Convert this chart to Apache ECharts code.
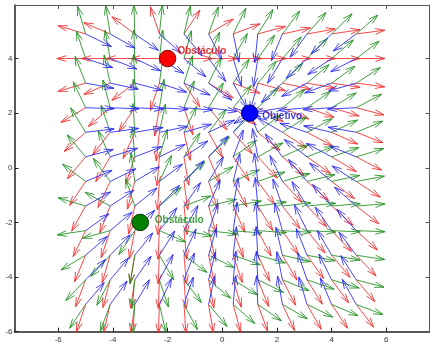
<!DOCTYPE html>
<html lang="es">
<head>
    <meta charset="UTF-8">
    <title>Campo de potencial</title>
    <script src="https://cdn.jsdelivr.net/npm/echarts@6/dist/echarts.min.js"></script>
    <style type="text/css">
        html, body { margin: 0; padding: 0; background: #fff; }
        #main { width: 436px; height: 348px; }
    </style>
</head>
<body>
<div id="main"></div>
<script type="text/javascript">
    // malla de puntos (x = y = -5:0.9:5)
    var xGrid = [-5, -4.1, -3.2, -2.3, -1.4, -0.5, 0.4, 1.3, 2.2, 3.1, 4.0, 4.9];
    var yGrid = [-5, -4.1, -3.2, -2.3, -1.4, -0.5, 0.4, 1.3, 2.2, 3.1, 4.0, 4.9];
    // obstaculos y objetivo
    var obstacleRed = [-2, 4];
    var obstacleGreen = [-3, -2];
    var goal = [1, 2];
    // posiciones de los textos
    var labelRed = [-1.64, 4.25];
    var labelGreen = [-2.47, -1.92];
    var labelGoal = [1.46, 1.89];
    // marcas de los ejes
    var xTicks = [-6, -4, -2, 0, 2, 4, 6];
    var yTicks = [-6, -4, -2, 0, 2, 4];

    var arrowLen = 1.05;   // escala del quiver
    var alpha = 0.33;      // largo de la punta
    var beta = 0.3;        // ancho de la punta

    // vector unitario de repulsion (sign = 1) o atraccion (sign = -1)
    function field(src, sign) {
        var data = [];
        for (var j = 0; j < yGrid.length; j++) {
            for (var i = 0; i < xGrid.length; i++) {
                var dx = xGrid[i] - src[0];
                var dy = yGrid[j] - src[1];
                var d = Math.sqrt(dx * dx + dy * dy);
                data.push([xGrid[i], yGrid[j], sign * arrowLen * dx / d, sign * arrowLen * dy / d]);
            }
        }
        return data;
    }

    function arrowRenderer(color) {
        return function (params, api) {
            var x = api.value(0), y = api.value(1), u = api.value(2), v = api.value(3);
            var tail = api.coord([x, y]);
            var tip = api.coord([x + u, y + v]);
            var b1 = api.coord([x + u - alpha * (u + beta * v), y + v - alpha * (v - beta * u)]);
            var b2 = api.coord([x + u - alpha * (u - beta * v), y + v - alpha * (v + beta * u)]);
            var st = { stroke: color, lineWidth: 1, fill: null, opacity: 0.85 };
            return {
                type: 'group',
                children: [
                    { type: 'polyline', shape: { points: [tail, tip] }, style: st },
                    { type: 'polyline', shape: { points: [b1, tip, b2] }, style: st }
                ]
            };
        };
    }

    function quiver(name, data, color) {
        return {
            name: name,
            type: 'custom',
            xAxisIndex: 0,
            yAxisIndex: 0,
            renderItem: arrowRenderer(color),
            encode: { x: 0, y: 1 },
            data: data,
            silent: true,
            z: 2
        };
    }

    function point(name, pos, color, edge) {
        return {
            name: name,
            type: 'scatter',
            symbol: 'circle',
            symbolSize: 16.5,
            itemStyle: { color: color, borderColor: edge, borderWidth: 1, opacity: 1 },
            data: [pos],
            z: 5
        };
    }

    function label(text, pos, color) {
        return {
            type: 'scatter',
            symbolSize: 0,
            data: [pos],
            z: 6,
            label: {
                show: true,
                position: 'right',
                distance: 0,
                formatter: text,
                color: color,
                fontSize: 10,
                fontWeight: 'bold',
                fontFamily: 'Liberation Sans'
            }
        };
    }

    var axisFont = { fontSize: 8, color: '#333', fontFamily: 'Liberation Sans' };

    var myChart = echarts.init(document.getElementById('main'));
    var option = {
        animation: false,
        grid: { left: 14.5, right: 6.5, top: 5, bottom: 16.3 },
        xAxis: [{
            type: 'value', min: -7.6, max: 7.58, position: 'bottom',
            axisLine: { onZero: false, lineStyle: { color: '#222', width: 1.5 } },
            axisTick: { inside: true, length: 4, customValues: xTicks, lineStyle: { color: '#222' } },
            axisLabel: Object.assign({ customValues: xTicks, margin: 4 }, axisFont),
            splitLine: { show: false }
        }, {
            type: 'value', min: -7.6, max: 7.58, position: 'top',
            axisLine: { onZero: false, lineStyle: { color: '#555', width: 1 } },
            axisTick: { inside: true, length: 4, customValues: xTicks, lineStyle: { color: '#555' } },
            axisLabel: { show: false },
            splitLine: { show: false }
        }],
        yAxis: [{
            type: 'value', min: -6, max: 5.96, position: 'left',
            axisLine: { onZero: false, lineStyle: { color: '#222', width: 1.5 } },
            axisTick: { inside: true, length: 4, customValues: yTicks, lineStyle: { color: '#222' } },
            axisLabel: Object.assign({ customValues: yTicks, margin: 2 }, axisFont),
            splitLine: { show: false }
        }, {
            type: 'value', min: -6, max: 5.96, position: 'right',
            axisLine: { onZero: false, lineStyle: { color: '#555', width: 1 } },
            axisTick: { inside: true, length: 4, customValues: yTicks, lineStyle: { color: '#555' } },
            axisLabel: { show: false },
            splitLine: { show: false }
        }],
        series: [
            quiver('repulsion roja', field(obstacleRed, 1), '#f22a2a'),
            quiver('repulsion verde', field(obstacleGreen, 1), '#1f8f1f'),
            quiver('atraccion', field(goal, -1), '#2626f2'),
            point('Obstáculo rojo', obstacleRed, '#ff0000', '#7a0000'),
            point('Obstáculo verde', obstacleGreen, '#008000', '#003300'),
            point('Objetivo', goal, '#0000ff', '#000066'),
            label('Obstáculo', labelRed, '#e00000'),
            label('Obstáculo', labelGreen, '#118811'),
            label('Objetivo', labelGoal, '#1111cc')
        ]
    };
    myChart.setOption(option);
</script>
</body>
</html>
